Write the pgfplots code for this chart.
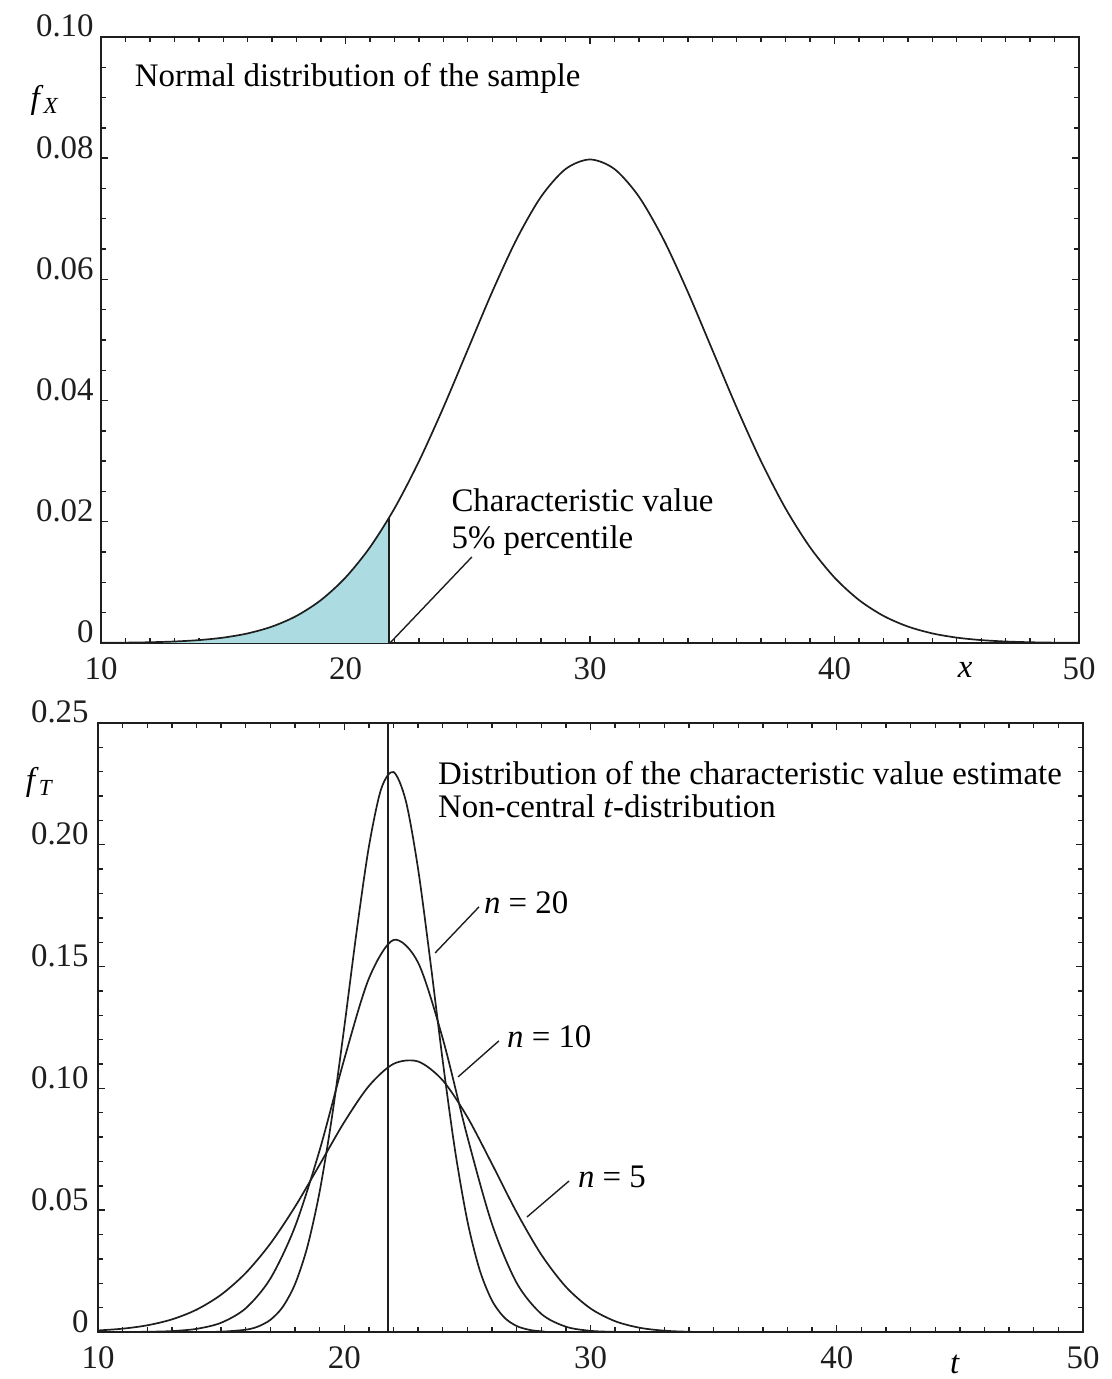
\documentclass[border=0pt]{standalone}
\usepackage{fontspec}
\setmainfont{Liberation Serif}
\usepackage{pgfplots}
\pgfplotsset{compat=1.18}

\definecolor{tail}{RGB}{172,220,226}
\definecolor{ink}{RGB}{30,30,30}
\newcommand\lab{\fontsize{16.5}{19}\selectfont}

\pgfplotsset{
  panel/.style={
    scale only axis, clip mode=individual,
    xmin=10, xmax=50,
    xtick={10,20,30,40,50}, minor x tick num=9,
    xticklabels={10,20,30,40,50},
    scaled y ticks=false,
    major tick length=3.5bp, minor tick length=2.5bp,
    every tick/.style={ink, line width=0.7bp},
    axis line style={ink, line width=0.85bp},
    tick label style={font=\lab, text=ink},
    /pgf/number format/assume math mode=true,
    yticklabel style={anchor=base east, inner sep=3.5bp},
    xticklabel style={yshift=-4bp},
  },
  curve/.style={ink, line width=0.85bp, smooth, mark=none},
}

\begin{document}
\begin{tikzpicture}
\useasboundingbox (0,0) rectangle (556bp,689.5bp);

% upper panel: normal pdf of the sample, mean 30, sd 5
\begin{axis}[panel,
  at={(50.5bp,368bp)}, anchor=south west,
  width=489bp, height=303bp,
  ymin=0, ymax=0.1,
  ytick={0,0.02,0.04,0.06,0.08,0.1}, minor y tick num=3,
  yticklabels={0,0.02,0.04,0.06,0.08,0.10}]

\addplot[draw=none, fill=tail, smooth] coordinates {
(10,0.0000268) (11,0.0000584) (12,0.0001224) (13,0.0002465) (14,0.0004768)
(15,0.0008864) (15.5,0.001191) (16,0.001583) (16.5,0.002084) (17,0.002717)
(17.5,0.003506) (18,0.004479) (18.5,0.005665) (19,0.007095) (19.5,0.008797)
(20,0.010798) (20.5,0.013123) (21,0.015790) (21.5,0.018810) (21.78,0.02066)
} \closedcycle;

\addplot[curve] coordinates {
(10,0.0000268) (11,0.0000584) (12,0.0001224) (13,0.0002465) (14,0.0004768)
(15,0.0008864) (16,0.001583) (17,0.002717) (18,0.004479) (19,0.007095)
(20,0.010798) (21,0.015790) (22,0.022184) (23,0.029946) (24,0.038837)
(25,0.048394) (26,0.057938) (27,0.066645) (28,0.073654) (29,0.078209)
(30,0.079788) (31,0.078209) (32,0.073654) (33,0.066645) (34,0.057938)
(35,0.048394) (36,0.038837) (37,0.029946) (38,0.022184) (39,0.015790)
(40,0.010798) (41,0.007095) (42,0.004479) (43,0.002717) (44,0.001583)
(45,0.0008864) (46,0.0004768) (47,0.0002465) (48,0.0001224) (49,0.0000584)
(50,0.0000268)
};
\addplot[ink, line width=0.85bp] coordinates {(21.78,0) (21.78,0.02066)};

\draw[ink, line width=0.7bp] (axis cs:21.82,0) -- (axis cs:25.17,0.0142);
\node[anchor=west, font=\lab] at (axis cs:11.1,0.0932) {Normal distribution of the sample};
\node[anchor=west, align=left, font=\fontsize{16.5}{18.5}\selectfont] at (axis cs:24.05,0.0199)
  {Characteristic value\\5\% percentile};
\node[font=\lab] at (axis cs:7.71,0.0896) {\textit{f}\textsubscript{\textit{X}}};
\node[font=\lab] at (axis cs:45.34,-0.0045) {\textit{x}};
\end{axis}

% lower panel: distribution of the estimate xbar - 1.645 s
\begin{axis}[panel,
  at={(49bp,23.5bp)}, anchor=south west,
  width=492.5bp, height=304.5bp,
  ymin=0, ymax=0.25,
  ytick={0,0.05,0.1,0.15,0.2,0.25}, minor y tick num=4,
  yticklabels={0,0.05,0.10,0.15,0.20,0.25},
  yticklabel style={inner sep=4.5bp}]

% n = 5
\addplot[curve] coordinates {
(10,0.000632) (11,0.001363) (12,0.002742) (13,0.005168) (14,0.009157)
(15,0.015313) (16,0.024226) (17,0.036289) (18,0.051409) (19,0.068684)
(20,0.086158) (21,0.100983) (22,0.110061) (23,0.111042) (24,0.103279)
(25,0.088229) (26,0.068972) (27,0.049155) (28,0.031790) (29,0.018544)
(30,0.009666) (31,0.004431) (32,0.001734) (33,0.000537) (34,0.0000974)
(35,0) (42,0) (50,0)
};
% n = 10
\addplot[curve] coordinates {
(10,0) (11,0.00001) (12,0.0000957) (13,0.000378) (14,0.001288) (15,0.003796)
(16,0.009746) (17,0.021926) (18,0.043243) (19,0.074610) (20,0.111983)
(21,0.145085) (22,0.160929) (23,0.151623) (24,0.120463) (25,0.080146)
(26,0.044322) (27,0.020180) (28,0.007456) (29,0.002180) (30,0.000476)
(31,0.0000638) (32,0) (40,0) (50,0)
};
% n = 20
\addplot[curve] coordinates {
(10,0) (12,0) (14,0.0000136) (15,0.0001325) (16,0.000944) (16.5,0.002251)
(17,0.004989) (17.5,0.010264) (18,0.019637) (18.5,0.034893) (19,0.057586)
(19.5,0.088158) (20,0.125073) (20.5,0.164206) (21,0.199185) (21.5,0.222941)
(22,0.229879) (22.5,0.218047) (23,0.190011) (23.5,0.151894) (24,0.111241)
(24.5,0.074517) (25,0.045603) (25.5,0.025444) (26,0.012911) (26.5,0.005941)
(27,0.002471) (27.5,0.000923) (28,0.0003068) (29,0) (40,0) (50,0)
};
\addplot[ink, line width=0.85bp] coordinates {(21.78,0) (21.78,0.25)};

\draw[ink, line width=0.7bp] (axis cs:23.69,0.1556) -- (axis cs:25.47,0.1745);
\draw[ink, line width=0.7bp] (axis cs:24.62,0.1047) -- (axis cs:26.28,0.1195);
\draw[ink, line width=0.7bp] (axis cs:27.42,0.0472) -- (axis cs:29.13,0.0620);
\node[anchor=west, font=\lab] at (axis cs:25.39,0.1761) {\textit{n} = 20};
\node[anchor=west, font=\lab] at (axis cs:26.33,0.1211) {\textit{n} = 10};
\node[anchor=west, font=\lab] at (axis cs:29.21,0.0636) {\textit{n} = 5};
\node[anchor=west, align=left, font=\fontsize{16.5}{16.5}\selectfont] at (axis cs:23.53,0.2225)
  {Distribution of the characteristic value estimate\\Non-central \textit{t}-distribution};
\node[font=\lab] at (axis cs:7.64,0.2258) {\textit{f}\textsubscript{\textit{T}}};
\node[font=\lab] at (axis cs:44.8,-0.0135) {\textit{t}};
\end{axis}
\end{tikzpicture}
\end{document}
